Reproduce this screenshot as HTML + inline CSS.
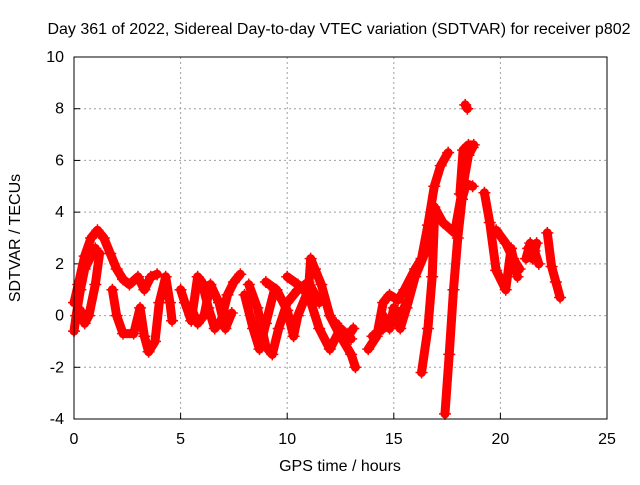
<!DOCTYPE html>
<html><head><meta charset="utf-8"><style>
body{margin:0;background:#fff}
svg text{font-family:"Liberation Sans",sans-serif;font-size:16px;fill:#000}
</style></head><body>
<svg id="chart" width="640" height="480" xmlns="http://www.w3.org/2000/svg">
<rect width="640" height="480" fill="#fff"/>
<text x="339" y="34" text-anchor="middle">Day 361 of 2022, Sidereal Day-to-day VTEC variation (SDTVAR) for receiver p802</text>
<text x="340" y="471" text-anchor="middle">GPS time / hours</text>
<text transform="translate(20,238) rotate(-90)" text-anchor="middle">SDTVAR / TECUs</text>
<g id="grid"></g>
<g id="ticks"></g>
<g id="marks"></g>
<rect x="74" y="57" width="533" height="362" fill="none" stroke="#000" stroke-width="1"/>
</svg>
<script>
const xTicks=[0,5,10,15,20,25];
const yTicks=[-4,-2,0,2,4,6,8,10];
const track1=[[0,0.5],[0.2,1.2],[0.5,2.3],[0.8,3.0],[1.1,3.3],[1.4,3.0],[1.7,2.4],[2.0,1.8],[2.3,1.4],[2.6,1.2],[3.0,1.5],[3.3,1.0],[3.6,1.5],[3.9,1.6]];
const track2=[[0,-0.6],[0.1,0],[0.3,1],[0.5,1.8],[0.8,2.3],[1.0,2.6]];
const track3=[[0.3,0.2],[0.5,-0.3],[0.7,0],[1.0,1.2],[1.2,2.4]];
const track4=[[1.8,1],[2.0,0],[2.3,-0.7],[2.8,-0.7],[3.1,0.3],[3.3,-0.8],[3.5,-1.4],[3.8,-1],[4.0,0.5],[4.3,1.5],[4.5,0.5],[4.6,-0.2]];
const track5=[[5.0,1],[5.2,0.5],[5.5,-0.2],[5.8,1.5],[6.0,1.3],[6.3,0.3],[6.6,-0.5],[6.9,-0.2],[7.2,0.8],[7.5,1.3],[7.8,1.6]];
const track6=[[5.5,0.3],[5.8,-0.3],[6.1,0],[6.4,1.2],[6.8,0.5],[7.1,-0.5],[7.4,0.1]];
const track7=[[8.2,1.2],[8.6,0.3],[9.0,-1.2],[9.3,-1.5],[9.6,-0.5],[10.0,0.5],[10.5,1.0],[11.0,1.3],[11.5,0.5]];
const track8=[[9.0,1.3],[9.5,1.0],[10.0,0.2],[10.3,-0.8],[10.5,0],[11.0,1.0],[11.1,2.2],[11.3,1.8],[11.6,1.2],[12.0,0],[12.5,-0.8],[13.0,-1.5],[13.2,-2]];
const track9=[[10.0,1.5],[10.5,1.2],[11.0,0.8],[11.5,-0.5],[12.0,-1.3],[12.5,-0.5],[13.0,-0.9]];
const track10=[[13.8,-1.3],[14.2,-0.8],[14.5,0.5],[14.8,0.8],[15.2,0.6],[15.5,1.0],[16.0,1.8],[16.3,2.2],[16.6,3.5],[16.9,5.0],[17.2,5.8],[17.55,6.3]];
const track11=[[14.0,-0.8],[14.5,-0.5],[15.0,0],[15.3,-0.5],[15.6,0.3],[16.0,1.5],[16.5,2.5],[16.9,4.2],[17.3,3.6],[17.85,3.2],[18.2,4.8],[18.5,6.2],[18.7,6.5]];
const track12=[[16.3,-2.2],[16.6,-0.5],[16.8,1.5],[16.9,3.6]];
const track13=[[17.4,-3.8],[17.6,-1.5],[17.8,1.0],[18.0,3.0],[18.2,4.5],[18.4,5.1],[18.7,5.0]];
const track14=[[18.1,4.7],[18.25,6.4],[18.5,6.6],[18.75,6.6]];
const track15=[[18.35,8.15],[18.45,8.0]];
const track16=[[19.25,4.75],[19.5,3.6],[19.8,1.75],[20.25,1.0],[20.5,2.6],[20.8,1.5]];
const track17=[[19.8,3.3],[20.25,2.8],[20.6,2.2],[20.9,1.8]];
const track18=[[21.2,2.2],[21.4,2.8],[21.6,2.5],[21.8,2.0]];
const track19=[[22.2,3.2],[22.4,1.9],[22.6,1.3],[22.8,0.7]];
const track20=[[8.0,0.8],[8.4,-0.5],[8.7,-1.3],[9.0,-0.3],[9.4,1.0]];
const track21=[[12.3,-0.3],[12.7,-1.0],[13.1,-0.5]];
const track22=[[14.5,0],[14.8,-0.5],[15.0,0.3],[15.3,0],[15.6,0.5]];
const track23=[[21.3,2.6],[21.5,2.2],[21.7,2.8]];
const tracks=[track1,track2,track3,track4,track5,track6,track7,track8,track9,track10,track11,track12,track13,track14,track15,track16,track17,track18,track19,track20,track21,track22,track23];
const X0=74,X1=607,Y0=419,Y1=57,xmin=0,xmax=25,ymin=-4,ymax=10;
function sx(v){return X0+(v-xmin)/(xmax-xmin)*(X1-X0);}
function sy(v){return Y0-(v-ymin)/(ymax-ymin)*(Y0-Y1);}
const NS='http://www.w3.org/2000/svg';
const grid=document.getElementById('grid'),ticks=document.getElementById('ticks'),marks=document.getElementById('marks');
function mk(tag,attrs,parent){const e=document.createElementNS(NS,tag);for(const k in attrs)e.setAttribute(k,attrs[k]);parent.appendChild(e);return e;}
xTicks.forEach(t=>{
  const x=sx(t);
  if(t>xmin&&t<xmax){const g=mk('line',{x1:x,x2:x,y1:Y0,y2:Y1,stroke:'#a0a0a0','stroke-dasharray':'2,3'},grid);
  
  }
  const tk=mk('line',{x1:x,x2:x,y1:Y0,y2:Y0-6,stroke:'#000'},ticks);
  
  
  const tx=mk('text',{x:x,y:Y0+25,'text-anchor':'middle'},ticks);tx.textContent=t;
  
  
});
yTicks.forEach(t=>{
  const y=sy(t);
  if(t>ymin&&t<ymax){const g=mk('line',{x1:X0,x2:X1,y1:y,y2:y,stroke:'#a0a0a0','stroke-dasharray':'2,3'},grid);
  
  }
  const tk=mk('line',{x1:X0,x2:X0+6,y1:y,y2:y,stroke:'#000'},ticks);
  
  
  const tx=mk('text',{x:X0-10,y:y+5,'text-anchor':'end'},ticks);tx.textContent=t;
  
  
});
tracks.forEach((tr,i)=>{
  const pl=mk('polyline',{points:tr.map(p=>sx(p[0])+','+sy(p[1])).join(' '),fill:'none',stroke:'#ff0000','stroke-width':9,'stroke-linejoin':'round','stroke-linecap':'round'},marks);
  
  
  tr.forEach(p=>{
    const x=sx(p[0]),y=sy(p[1]);
    const m=mk('path',{d:`M${x-6},${y}H${x+6}M${x},${y-6}V${y+6}`,stroke:'#ff0000','stroke-width':1.5},marks);
    
    
  });
});
</script>
</body></html>
